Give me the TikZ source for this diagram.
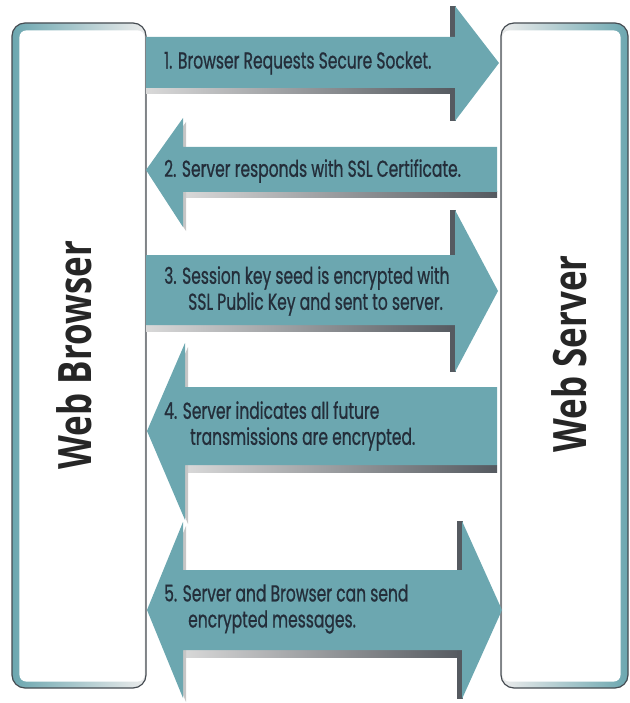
\documentclass[tikz,border=0pt]{standalone}
\usepackage{fontspec}
\setmainfont{Open Sans}
\newfontfamily\stepfont{Poppins}[FakeStretch=0.675, FakeBold=0.8]
\newfontfamily\sidefont{Open Sans}[FakeStretch=0.76]

\definecolor{arrowteal}{RGB}{108,167,176}
\definecolor{shadowgray}{RGB}{85,90,96}
\definecolor{edgegray}{RGB}{70,76,82}
\definecolor{labelink}{RGB}{36,46,58}

\begin{document}
\begin{tikzpicture}[x=1pt, y=-1pt,
    sidebox/.style={draw=edgegray, line width=1.2pt, rounded corners=13pt, inner sep=0pt},
    sidetext/.style={rotate=90, inner sep=0pt, font=\sidefont\bfseries\fontsize{46}{50}\selectfont, text=black!85},
    steptext/.style={anchor=west, align=left, inner sep=0pt, text=labelink, font=\stepfont\fontsize{23}{26}\selectfont},
    flow/.style={fill=arrowteal},
    drop/.style={left color=gray!30, right color=shadowgray},
    headback/.style={fill=shadowgray},
    headdrop/.style={fill=gray!45}]
    \useasboundingbox (0,0) rectangle (629,703);
    \clip (0,0) rectangle (629,703);

    % the two end points
    \node (browser) [sidebox, left color=arrowteal, right color=gray!15, minimum width=134pt, minimum height=665pt] at (79,355.5) {};
    \fill[white, rounded corners=7pt] ([shift={(8,8)}]browser.north west) rectangle ([shift={(-2,-7)}]browser.south east);
    \node (server) [sidebox, left color=gray!15, right color=arrowteal, minimum width=127pt, minimum height=665pt] at (564.5,355.5) {};
    \fill[white, rounded corners=7pt] ([shift={(2,8)}]server.north west) rectangle ([shift={(-8,-7)}]server.south east);

    \node (browserlbl) [sidetext] at (74,355) {Web Browser};
    \node (serverlbl) [sidetext] at (569,354) {Web Server};

    % 1: browser -> server
    \shade[drop] (146,88) rectangle (455,94);
    \fill[headback] (450,6) rectangle (456,121);
    \fill[flow] (146,37) -- (455,37) -- (455,6) -- (499,63) -- (455,121) -- (455,88) -- (146,88) -- cycle;
    \node (step1) [steptext] at (164,63) {1. Browser Requests Secure Socket.};

    % 2: server -> browser
    \shade[drop] (183,192) rectangle (497,198);
    \fill[headdrop, shift={(3,4)}] (146,170) -- (183,118) -- (183,227) -- cycle;
    \fill[flow] (497,147) -- (183,147) -- (183,118) -- (146,170) -- (183,227) -- (183,192) -- (497,192) -- cycle;
    \node (step2) [steptext] at (164,171) {2. Server responds with SSL Certificate.};

    % 3: browser -> server
    \shade[drop] (146,325) rectangle (455,331);
    \fill[headback] (450,210) rectangle (456,372);
    \fill[flow] (146,255) -- (455,255) -- (455,210) -- (498,291) -- (455,372) -- (455,325) -- (146,325) -- cycle;
    \node (step3) [steptext] at (164,291) {3. Session key seed is encrypted with\\\hspace*{24pt}SSL Public Key and sent to server.};

    % 4: server -> browser
    \shade[drop] (185,465) rectangle (497,472);
    \fill[headdrop, shift={(3,4)}] (147,431) -- (185,343) -- (185,520) -- cycle;
    \fill[flow] (497,387) -- (185,387) -- (185,343) -- (147,431) -- (185,520) -- (185,465) -- (497,465) -- cycle;
    \node (step4) [steptext] at (164,426) {4. Server indicates all future\\\hspace*{26pt}transmissions are encrypted.};

    % 5: both ways
    \shade[drop] (183,650) rectangle (462,657);
    \fill[headdrop, shift={(3,4)}] (147,610) -- (183,522) -- (183,698) -- cycle;
    \fill[headback] (457,521) rectangle (463,699);
    \fill[flow] (183,570) -- (462,570) -- (462,521) -- (502,610) -- (462,699) -- (462,650) -- (183,650) -- (183,698) -- (147,610) -- (183,522) -- cycle;
    \node (step5) [steptext] at (164,609) {5. Server and Browser can send\\\hspace*{24pt}encrypted messages.};
\end{tikzpicture}
\end{document}
